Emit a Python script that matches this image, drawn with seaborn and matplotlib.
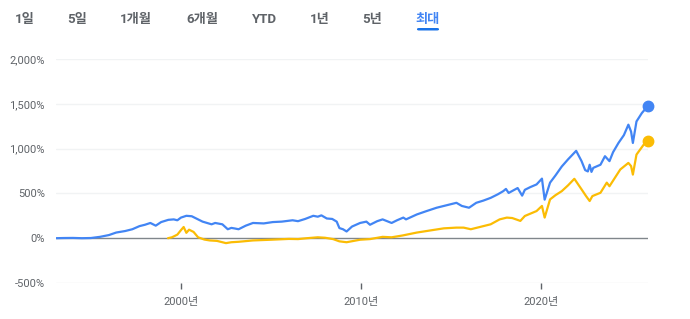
import matplotlib
matplotlib.use("Agg")
import matplotlib.pyplot as plt
import seaborn as sns
import pandas as pd
from matplotlib.patches import FancyBboxPatch

# ---------------- data ----------------
blue_years = [1993.06, 1993.5, 1994.0, 1994.5, 1995.0, 1995.5, 1996.0, 1996.4, 1996.9, 1997.3,
              1997.7, 1998.0, 1998.3, 1998.6, 1998.9, 1999.3, 1999.6, 1999.8, 2000.0, 2000.3,
              2000.6, 2000.9, 2001.2, 2001.7, 2001.9, 2002.3, 2002.6, 2002.8, 2003.0, 2003.2,
              2003.6, 2004.0, 2004.6, 2005.1, 2005.6, 2006.2, 2006.5, 2006.9, 2007.35, 2007.6,
              2007.8, 2008.1, 2008.4, 2008.65, 2008.8, 2009.0, 2009.2, 2009.5, 2009.95, 2010.3,
              2010.5, 2010.9, 2011.2, 2011.7, 2012.0, 2012.35, 2012.5, 2013.1, 2013.6, 2014.2,
              2014.6, 2015.0, 2015.3, 2015.6, 2016.0, 2016.4, 2016.8, 2017.2, 2017.6, 2017.9,
              2018.05, 2018.2, 2018.7, 2018.95, 2019.1, 2019.4, 2019.75, 2020.05, 2020.2, 2020.5,
              2020.8, 2021.15, 2021.5, 2021.95, 2022.25, 2022.45, 2022.6, 2022.7, 2022.8, 2022.9,
              2023.3, 2023.55, 2023.8, 2024.0, 2024.3, 2024.6, 2024.85, 2025.0, 2025.1, 2025.3,
              2025.6, 2025.94]
blue_pct = [0, 2, 3, 0, 2, 15, 35, 63, 80, 100,
            135, 150, 170, 140, 180, 205, 210, 200, 230, 250,
            245, 215, 185, 155, 170, 155, 100, 115, 108, 100,
            140, 170, 165, 180, 185, 200, 190, 215, 250, 240,
            255, 220, 215, 185, 113, 100, 75, 130, 170, 185,
            150, 190, 210, 170, 200, 230, 210, 265, 300, 340,
            360, 380, 395, 360, 340, 395, 420, 450, 490, 525,
            550, 505, 560, 475, 540, 570, 600, 665, 430, 620,
            700, 800, 880, 975, 860, 760, 745, 820, 740, 785,
            820, 915, 860, 960, 1063, 1150, 1267, 1190, 1063, 1303,
            1397, 1478]

yellow_years = [1999.28, 1999.5, 1999.8, 2000.0, 2000.15, 2000.3, 2000.45, 2000.7, 2000.95, 2001.3,
                2001.6, 2002.0, 2002.5, 2002.8, 2003.2, 2004.0, 2005.0, 2006.0, 2006.5, 2007.0,
                2007.6, 2008.0, 2008.45, 2008.8, 2009.2, 2009.6, 2009.95, 2010.5, 2011.2, 2011.7,
                2012.3, 2013.1, 2013.8, 2014.6, 2015.3, 2015.7, 2016.1, 2016.6, 2017.2, 2017.7,
                2018.1, 2018.4, 2018.85, 2019.1, 2019.75, 2020.05, 2020.2, 2020.5, 2020.8, 2021.15,
                2021.5, 2021.85, 2022.25, 2022.5, 2022.7, 2022.85, 2023.3, 2023.65, 2023.8, 2024.4,
                2024.85, 2025.0, 2025.1, 2025.3, 2025.7, 2025.94]
yellow_pct = [0, 10, 40, 90, 125, 60, 95, 70, 10, -15,
              -25, -30, -55, -45, -40, -25, -17, -8, -10, 0,
              10, 5, -10, -35, -45, -30, -17, -10, 15, 10,
              30, 63, 85, 110, 118, 118, 100, 125, 155, 210,
              230, 225, 193, 248, 303, 360, 230, 433, 480, 525,
              590, 663, 545, 470, 415, 470, 507, 620, 580, 767,
              840, 805, 710, 933, 1044, 1081]

y_ticks = [-500, 0, 500, 1000, 1500, 2000]
x_ticks = [2000, 2010, 2020]
x_tick_labels = ["2000년", "2010년", "2020년"]
tabs = ["1일", "5일", "1개월", "6개월", "YTD", "1년", "5년", "최대"]

# ---------------- style ----------------
sns.set_theme(style="white")
plt.rcParams["font.family"] = ["Roboto", "Noto Sans CJK KR", "DejaVu Sans"]

BLUE = "#4285f4"
YELLOW = "#fbbc04"
GREY_TXT = "#5f6368"
GRID = "#f1f3f4"

W, H = 690, 319
fig = plt.figure(figsize=(W / 100, H / 100), dpi=100)
fig.patch.set_facecolor("white")

x0, x1 = 56, 648
ytop, ybot = 59, 283
ax = fig.add_axes([x0 / W, (H - ybot) / H, (x1 - x0) / W, (ybot - ytop) / H])
ax.set_facecolor("white")

df = pd.concat([
    pd.DataFrame({"year": blue_years, "pct": blue_pct, "series": "A"}),
    pd.DataFrame({"year": yellow_years, "pct": yellow_pct, "series": "B"}),
])

# grid lines
for v in y_ticks:
    if v == 0:
        continue
    ax.axhline(v, color=GRID if v != -500 else "#ebedef", lw=1.0, zorder=0)
ax.axhline(0, color="#80868b", lw=1.0, zorder=1)

sns.lineplot(data=df, x="year", y="pct", hue="series", palette={"A": BLUE, "B": YELLOW},
             hue_order=["B", "A"], linewidth=1.6, legend=False, ax=ax, zorder=3,
             estimator=None, sort=True)

ax.plot([blue_years[-1]], [blue_pct[-1]], "o", color=BLUE, ms=7.5, zorder=4, clip_on=False)
ax.plot([yellow_years[-1]], [yellow_pct[-1]], "o", color=YELLOW, ms=7.5, zorder=4, clip_on=False)

ax.set_xlim(1993.06, 2025.94)
ax.set_ylim(-500, 2000)
for s in ax.spines.values():
    s.set_visible(False)

ax.set_yticks(y_ticks)
ax.set_yticklabels([f"{v:,}%" for v in y_ticks])
ax.set_xticks(x_ticks)
ax.set_xticklabels(x_tick_labels)
ax.tick_params(axis="y", length=0, pad=8, labelsize=8, labelcolor=GREY_TXT)
ax.tick_params(axis="x", length=4, width=1.0, color="#5f6368", direction="out",
               pad=6, labelsize=8, labelcolor=GREY_TXT, bottom=True)
ax.set_xlabel("")
ax.set_ylabel("")
ax.grid(False)

# ---------------- tabs ----------------
tab_x = [25, 77, 136, 202, 265, 320, 372, 428]
for t, xc in zip(tabs, tab_x):
    fig.text(xc / W, 1 - 19.5 / H, t, ha="center", va="center", fontsize=9.5,
             fontweight="semibold", color=BLUE if t == "최대" else GREY_TXT)
fig.add_artist(FancyBboxPatch((417 / W, 1 - 30.5 / H), 22 / W, 2.5 / H,
                              boxstyle="round,pad=0,rounding_size=0.003",
                              transform=fig.transFigure, color="#1a73e8", lw=0))

fig.savefig("out.png", dpi=100, facecolor="white")
